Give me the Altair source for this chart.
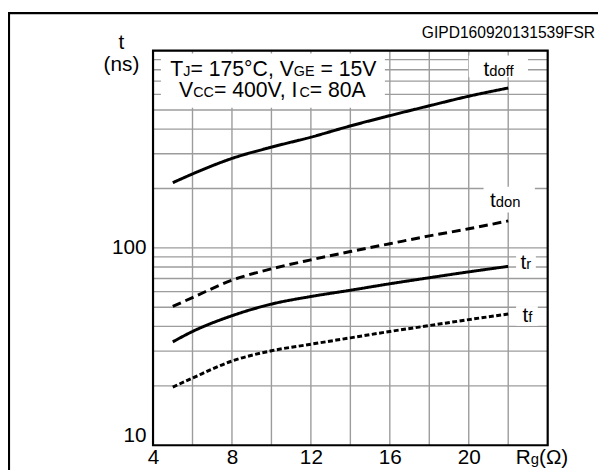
import altair as alt
import pandas as pd

# ---- data ----
rg = [5, 6, 8, 10, 12, 14, 16, 18, 20, 22]
t_doff = [214, 237, 284, 324, 364, 415, 468, 525, 587, 646]
t_don = [50.5, 56, 68.6, 78.3, 87, 95.8, 105, 115, 125, 137]
t_r = [33.4, 37.7, 45.3, 51.9, 56.7, 61, 65.8, 70.6, 75.6, 80.6]
t_f = [19.7, 21.9, 26.7, 30.1, 32.5, 35, 37.7, 40.4, 43.3, 46.2]
series_names = ["tdoff", "tdon", "tr", "tf"]

x_ticks = [4, 6, 8, 10, 12, 14, 16, 18, 20, 22, 24]
y_ticks = [10, 20, 30, 40, 50, 60, 70, 80, 90, 100,
           200, 300, 400, 500, 600, 700, 800, 900, 1000]
x_label_vals = [4, 8, 12, 16, 20]
y_label_vals = [10, 100]

FONT = "Liberation Sans"
M, S = 21, 15  # main / subscript font sizes
AM, AS = 21.5, 14.5  # annotation fonts
NB = "\u00a0"

# Arial / Liberation Sans advance widths (per 1000 em)
W = {" ": 278, NB: 278, "(": 333, ")": 333, ",": 278, ".": 278, "=": 584, "°": 400,
     "A": 667, "C": 722, "E": 667, "G": 778, "I": 278, "J": 500, "R": 722,
     "T": 611, "V": 667, "d": 556, "f": 278, "g": 556, "n": 556, "o": 556,
     "r": 333, "s": 500, "t": 278, "Ω": 768}
for ch in "0123456789":
    W[ch] = 556


def tw(text, size):
    return sum(W.get(c, 556) for c in text) * size / 1000.0


rows = []
for name, vals in zip(series_names, [t_doff, t_don, t_r, t_f]):
    for x, v in zip(rg, vals):
        rows.append({"rg": x, "t": v, "series": name})
df = pd.DataFrame(rows)

xs = alt.Scale(domain=[4, 24], nice=False, zero=False)
ys = alt.Scale(type="log", domain=[10, 1000], nice=False)

GRID = "#9c9c9c"
GW = 1.4

# grid lines (drawn as rules through the scales)
xgrid = alt.Chart(pd.DataFrame({"g": x_ticks[1:-1]})).mark_rule(color=GRID, strokeWidth=GW).encode(
    x=alt.X("g:Q", scale=xs,
            axis=alt.Axis(values=x_label_vals, format="d", title=None, ticks=False,
                          domain=False, grid=False, labelFontSize=21, labelFont=FONT,
                          labelColor="black", labelPadding=2, labelOverlap=False,
                          labelFlush=False)),
    y=alt.value(0), y2=alt.value(400))
ygrid = alt.Chart(pd.DataFrame({"g": y_ticks[1:-1]})).mark_rule(color=GRID, strokeWidth=GW).encode(
    y=alt.Y("g:Q", scale=ys,
            axis=alt.Axis(values=y_label_vals, format="d", title=None, ticks=False,
                          domain=False, grid=False, labelFontSize=21, labelFont=FONT,
                          labelColor="black", labelPadding=7, labelOverlap=False,
                          labelFlush=True, labelFlushOffset=0)),
    x=alt.value(0), x2=alt.value(400))

lines = alt.Chart(df).mark_line(strokeWidth=3, color="black", interpolate="monotone").encode(
    x=alt.X("rg:Q", scale=xs),
    y=alt.Y("t:Q", scale=ys),
    detail="series:N",
    strokeDash=alt.StrokeDash("series:N", legend=None,
                              scale=alt.Scale(domain=series_names,
                                              range=[[1, 0], [9, 5], [1, 0], [5, 2.5]])),
)

# white boxes behind annotations (data units)
box_x1 = [4.4, 20.0, 20.75, 22.4, 22.4]
box_x2 = [15.75, 23.0, 23.35, 23.4, 23.5]
box_y1 = [513, 733, 151, 75, 40.3]
box_y2 = [966, 944, 204, 92, 50.7]
boxes = alt.Chart(pd.DataFrame({"x1": box_x1, "x2": box_x2, "y1": box_y1, "y2": box_y2})).mark_rect(
    fill="white").encode(
    x=alt.X("x1:Q", scale=xs), x2="x2:Q",
    y=alt.Y("y1:Q", scale=ys), y2="y2:Q")

layers = [xgrid, ygrid, boxes, lines]


def rich(segments, x, y, align="center"):
    """segments: list of (text, size, extra_gap); placed at data (x, y) baseline."""
    total = sum(tw(t, s) + g for t, s, g in segments)
    off = -total / 2 if align == "center" else 0.0
    out = []
    for t, s, g in segments:
        off += g
        out.append(alt.Chart(pd.DataFrame({"x": [x], "y": [y], "txt": [t]})).mark_text(
            align="left", baseline="alphabetic", font=FONT, fontSize=s,
            color="black", dx=off).encode(
            x=alt.X("x:Q", scale=xs), y=alt.Y("y:Q", scale=ys), text="txt:N"))
        off += tw(t, s)
    return out


# condition annotation
layers += rich([("T", AM, 0), ("J", AS, 0), ("=" + NB + "175°C," + NB + "V", AM, 0), ("GE", AS, 0),
                ("=" + NB + "15V", AM, tw(" ", AM))], 10.1, 747)
layers += rich([("V", AM, 0), ("CC", AS, 0), ("=" + NB + "400V," + NB + "I", AM, 0), ("C", AS, 0),
                ("=" + NB + "80A", AM, 0)], 10.05, 584)

# curve labels
label_x = [20.75, 21.08, 22.62, 22.72]
label_y = [741, 162, 78.3, 42]
label_sub = ["doff", "don", "r", "f"]
for lx, ly, sub in zip(label_x, label_y, label_sub):
    layers += rich([("t", M, 0), (sub, S, 0)], lx, ly, align="left")


def pix_text(segments, px, py, align="center"):
    total = sum(tw(t, s) for t, s in segments)
    off = -total / 2 if align == "center" else 0.0
    out = []
    for t, s in segments:
        out.append(alt.Chart(pd.DataFrame({"txt": [t]})).mark_text(
            align="left", baseline="alphabetic", font=FONT, fontSize=s,
            color="black", dx=off).encode(
            x=alt.value(px), y=alt.value(py), text="txt:N"))
        off += tw(t, s)
    return out


# axis titles and figure code
layers += pix_text([("t", M)], -32, -2)
layers += pix_text([("(ns)", M)], -32, 21)
layers += pix_text([("R", M), ("g", S), ("(Ω)", M)], 367.7, 418.7, align="left")
layers += [alt.Chart(pd.DataFrame({"txt": ["GIPD160920131539FSR"]})).mark_text(
    align="right", baseline="alphabetic", font=FONT, fontSize=15.8, color="black").encode(
    x=alt.value(448), y=alt.value(-13), text="txt:N")]

one = pd.DataFrame({"a": [0]})
# plot border
layers += [alt.Chart(one).mark_rect(fillOpacity=0, stroke="black", strokeWidth=2.2).encode(
    x=alt.datum(4, scale=xs), x2=alt.datum(24), y=alt.datum(10, scale=ys), y2=alt.datum(1000))]
# outer figure frame
layers += [alt.Chart(one).mark_rule(color="black", strokeWidth=2.2).encode(
    x=alt.value(-147), x2=alt.value(451), y=alt.value(-38))]
layers += [alt.Chart(one).mark_rule(color="black", strokeWidth=2.2).encode(
    x=alt.value(-146), y=alt.value(-38), y2=alt.value(430))]

chart = alt.layer(*layers).properties(
    width=400, height=400,
    padding={"left": 147, "top": 40, "right": 51, "bottom": 24},
    autosize=alt.AutoSizeParams(type="none"),
).configure_view(stroke=None).configure(background="white")

chart.save("out.html", embed_options={"renderer": "svg", "actions": False})
